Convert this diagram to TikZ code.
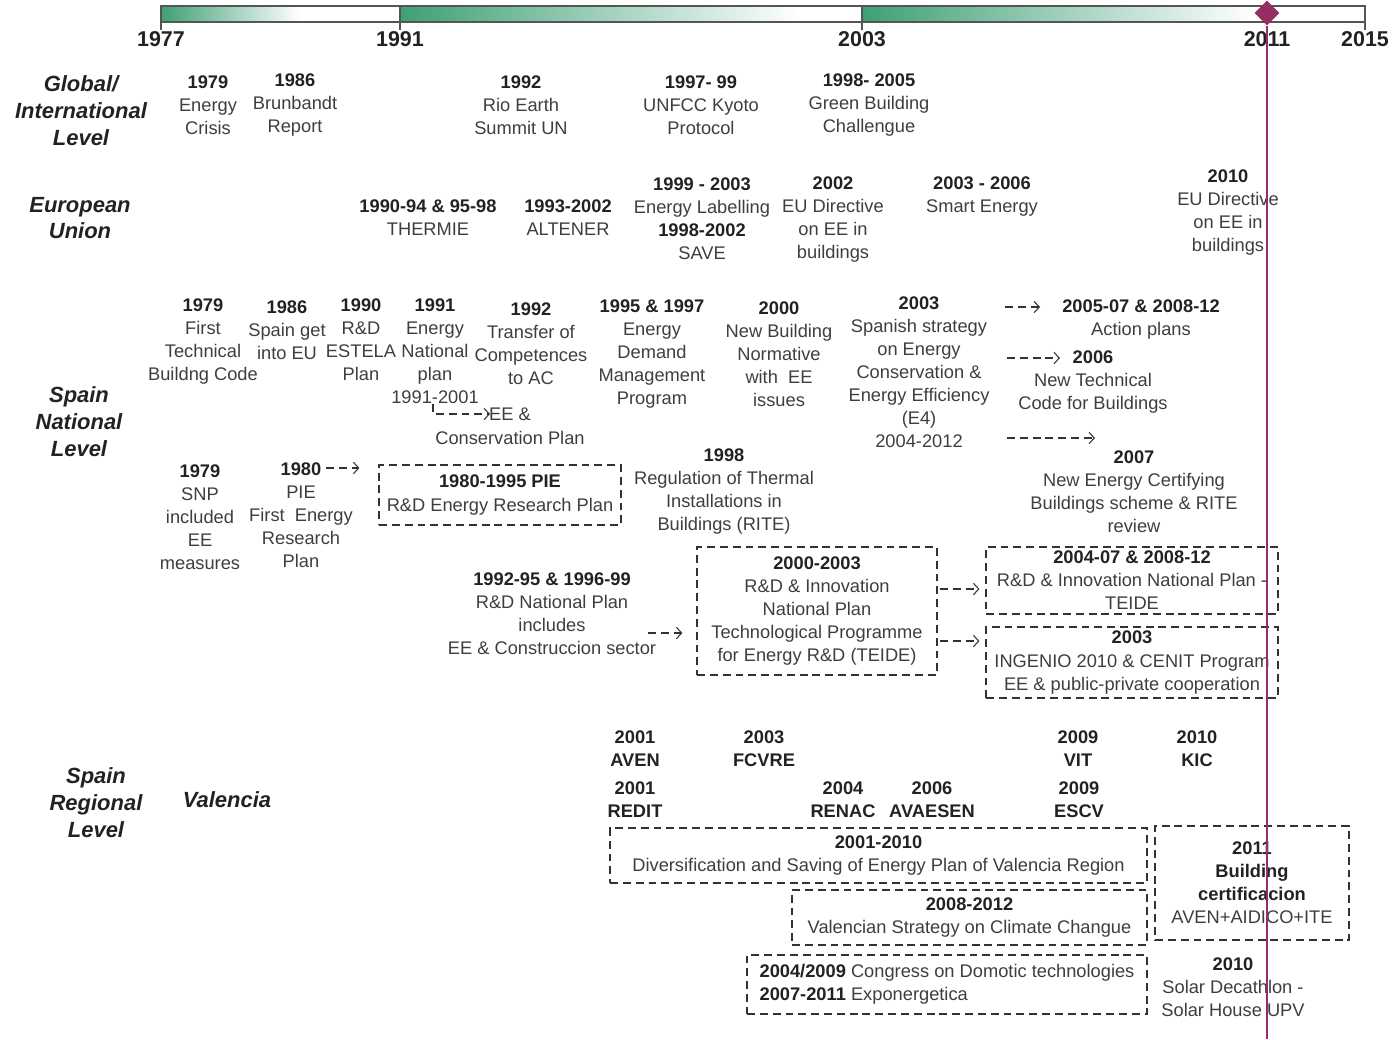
\documentclass[tikz,border=0pt]{standalone}
\usepackage{fontspec}
\setmainfont{Liberation Sans}
\usetikzlibrary{arrows.meta, shapes.geometric}
\definecolor{txtgray}{RGB}{62,62,62}
\definecolor{yeargray}{RGB}{34,34,34}
\definecolor{bargreen}{RGB}{62,160,118}
\definecolor{bargray}{RGB}{85,85,85}
\definecolor{nowpurple}{RGB}{150,45,100}
\definecolor{boxgray}{RGB}{50,50,50}

\newcommand{\yr}[1]{{\bfseries\color{yeargray}#1}}

\begin{document}
\begin{tikzpicture}[x=0.02cm, y=-0.02cm,
    txt/.style={align=center, inner sep=0pt, text=txtgray, font=\fontsize{10.4}{13.1}\selectfont},
    ev/.style={txt, yshift=-0.045cm},
    org/.style={ev, text=yeargray, font=\fontsize{10.4}{13.1}\selectfont\bfseries},
    lvl/.style={align=center, inner sep=0pt, text=yeargray, font=\fontsize{12.5}{15.3}\selectfont\bfseries\itshape},
    yearlab/.style={inner sep=0pt, text=yeargray, font=\fontsize{12.2}{14}\selectfont\bfseries},
    dbox/.style={txt, draw=boxgray, line width=0.7pt, dash pattern=on 4.5pt off 2.8pt},
    darr/.style={draw=boxgray, line width=0.6pt, dash pattern=on 4.5pt off 2.8pt,
      -{Straight Barb[length=3pt,width=6.5pt]}}]
    \useasboundingbox (0,0) rectangle (1392,1039);

    % time bar
    \shade[left color=bargreen, right color=white] (161,6) rectangle (300,22);
    \shade[left color=bargreen, right color=white] (400,6) rectangle (800,22);
    \shade[left color=bargreen, right color=white] (862,6) rectangle (1255,22);
    \draw[bargray, line width=1pt] (161,6) rectangle (1365,22);
    \foreach \x/\lab in {161/1977, 400/1991, 862/2003, 1365/2015} {
        \draw[bargray, line width=0.8pt] (\x,6) -- (\x,30);
        \node[yearlab] (y\lab) at (\x,39) {\lab};
    }
    \node[yearlab] (y2011) at (1267,39) {2011};
    \node[diamond, fill=nowpurple, minimum size=0.5cm, inner sep=0pt] (now) at (1267,13) {};

    % levels
    \node[lvl] (lglobal) at (81,111) {Global/\\International\\Level};
    \node[lvl] (leu) at (80,218) {European\\Union};
    \node[lvl] (lnat) at (79,422) {Spain\\National\\Level};
    \node[lvl] (lreg) at (96,803) {Spain\\Regional\\Level};
    \node[lvl] (lval) at (227,800) {Valencia};

    % global
    \node[ev] (g79) at (208,103) {\yr{1979}\\Energy\\Crisis};
    \node[ev] (g86) at (295,103) {\yr{1986}\\Brunbandt\\Report};
    \node[ev] (g92) at (521,103) {\yr{1992}\\Rio Earth\\Summit UN};
    \node[ev] (g97) at (701,103) {\yr{1997- 99}\\UNFCC Kyoto\\Protocol};
    \node[ev] (g98) at (869,103) {\yr{1998- 2005}\\Green Building\\Challengue};

    % european union
    \node[ev] (thermie) at (428,215) {\yr{1990-94 \& 95-98}\\THERMIE};
    \node[ev] (altener) at (568,215) {\yr{1993-2002}\\ALTENER};
    \node[ev] (save) at (702,216) {\yr{1999 - 2003}\\Energy Labelling\\\yr{1998-2002}\\SAVE};
    \node[ev] (dir02) at (833,217) {\yr{2002}\\EU Directive\\on EE in\\buildings};
    \node[ev] (smart) at (982,194) {\yr{2003 - 2006}\\Smart Energy};
    \node[ev] (dir10) at (1228,210) {\yr{2010}\\EU Directive\\on EE in\\buildings};

    % spain national
    \node[ev] (cte79) at (203,339) {\yr{1979}\\First\\Technical\\Buildng Code};
    \node[ev] (eu86) at (287,328) {\yr{1986}\\Spain get\\into EU};
    \node[ev] (estela) at (361,337) {\yr{1990}\\R\&D\\ESTELA\\Plan};
    \node[ev] (pen91) at (435,349) {\yr{1991}\\Energy\\National\\plan\\1991-2001};
    \node[ev] (ac92) at (531,341) {\yr{1992}\\Transfer of\\Competences\\to AC};
    \node[ev] (dsm) at (652,352) {\yr{1995 \& 1997}\\Energy\\Demand\\Management\\Program};
    \node[ev] (nbe) at (779,352) {\yr{2000}\\New Building\\Normative\\with\ \ EE\\issues};
    \node[ev] (e4) at (919,370) {\yr{2003}\\Spanish strategy\\on Energy\\Conservation \&\\Energy Efficiency\\(E4)\\2004-2012};
    \node[ev] (eecp) at (510,424) {EE \&\\Conservation Plan};
    \node[ev] (action) at (1141,317) {\yr{2005-07 \& 2008-12}\\Action plans};
    \node[ev] (cte06) at (1093,380) {\yr{2006}\\New Technical\\Code for Buildings};
    \node[ev] (cert07) at (1134,489) {\yr{2007}\\New Energy Certifying\\Buildings scheme \& RITE\\review};

    \node[ev] (snp79) at (200,515) {\yr{1979}\\SNP\\included\\EE\\measures};
    \node[ev] (pie80) at (301,513) {\yr{1980}\\PIE\\First\ \ Energy\\Research\\Plan};
    \node[dbox, minimum width=4.84cm, minimum height=1.2cm] (piebox) at (500,495)
        {\yr{1980-1995 PIE}\\R\&D Energy Research Plan};
    \node[ev] (rite98) at (724,489) {\yr{1998}\\Regulation of Thermal\\Installations in\\Buildings (RITE)};
    \node[ev] (rdnp) at (552,611) {\yr{1992-95 \& 1996-99}\\R\&D National Plan\\includes\\EE \& Construccion sector};
    \node[dbox, minimum width=4.8cm, minimum height=2.56cm] (teide0) at (817,611)
        {\yr{2000-2003}\\R\&D \& Innovation\\National Plan\\Technological Programme\\for Energy R\&D (TEIDE)};
    \node[dbox, minimum width=5.84cm, minimum height=1.34cm] (teide1) at (1132,580.5)
        {\yr{2004-07 \& 2008-12}\\R\&D \& Innovation National Plan -\\TEIDE};
    \node[dbox, minimum width=5.84cm, minimum height=1.42cm] (ingenio) at (1132,662.5)
        {\yr{2003}\\INGENIO 2010 \& CENIT Program\\EE \& public-private cooperation};

    % links
    \coordinate (p80) at (326,468);
    \draw[darr, shorten >=0.38cm] (p80) -- (p80 -| piebox.west);
    \coordinate (eein) at (490,414);
    \draw[darr] ([xshift=-0.04cm]pen91.south) |- (eein);
    \coordinate (rdnpe) at (648,633);
    \draw[darr, shorten >=0.28cm] (rdnpe) -- (rdnpe -| teide0.west);
    \coordinate (t1) at (940,589);
    \coordinate (t2) at (940,641);
    \draw[darr, shorten >=0.12cm] (t1) -- (t1 -| teide1.west);
    \draw[darr, shorten >=0.12cm] (t2) -- (t2 -| ingenio.west);
    \coordinate (e4a) at (1005,307);
    \coordinate (e4at) at (1040,307);
    \coordinate (e4b) at (1007,358);
    \coordinate (e4bt) at (1060,358);
    \coordinate (e4c) at (1007,438);
    \coordinate (e4ct) at (1095,438);
    \draw[darr] (e4a) -- (e4at);
    \draw[darr] (e4b) -- (e4bt);
    \draw[darr] (e4c) -- (e4ct);

    % spain regional
    \node[org] (aven) at (635,746) {2001\\AVEN};
    \node[org] (fcvre) at (764,746) {2003\\FCVRE};
    \node[org] (vit) at (1078,746) {2009\\VIT};
    \node[org] (kic) at (1197,746) {2010\\KIC};
    \node[org] (redit) at (635,797) {2001\\REDIT};
    \node[org] (renac) at (843,797) {2004\\RENAC};
    \node[org] (avaesen) at (932,797) {2006\\AVAESEN};
    \node[org] (escv) at (1079,797) {2009\\ESCV};

    \node[dbox, minimum width=10.74cm, minimum height=1.1cm] (valplan) at (878.5,855.5)
        {\yr{2001-2010}\\Diversification and Saving of Energy Plan of Valencia Region};
    \node[dbox, minimum width=7.1cm, minimum height=1.1cm] (climate) at (969.5,917.5)
        {\yr{2008-2012}\\Valencian Strategy on Climate Changue};
    \node[dbox, align=left, minimum width=8cm, minimum height=1.18cm] (domotic) at (947,984.5)
        {\yr{2004/2009} Congress on Domotic technologies\\\yr{2007-2011} Exponergetica};
    \node[dbox, minimum width=3.88cm, minimum height=2.28cm] (certbox) at (1252,883)
        {\yr{2011}\\\yr{Building}\\\yr{certificacion}\\AVEN+AIDICO+ITE};
    \node[ev] (decath) at (1233,985) {\yr{2010}\\Solar Decathlon -\\Solar House UPV};

    % today line
    \coordinate (nowend) at (1267,1039);
    \draw[nowpurple, line width=0.8pt] (now.south) -- (nowend);
\end{tikzpicture}
\end{document}
